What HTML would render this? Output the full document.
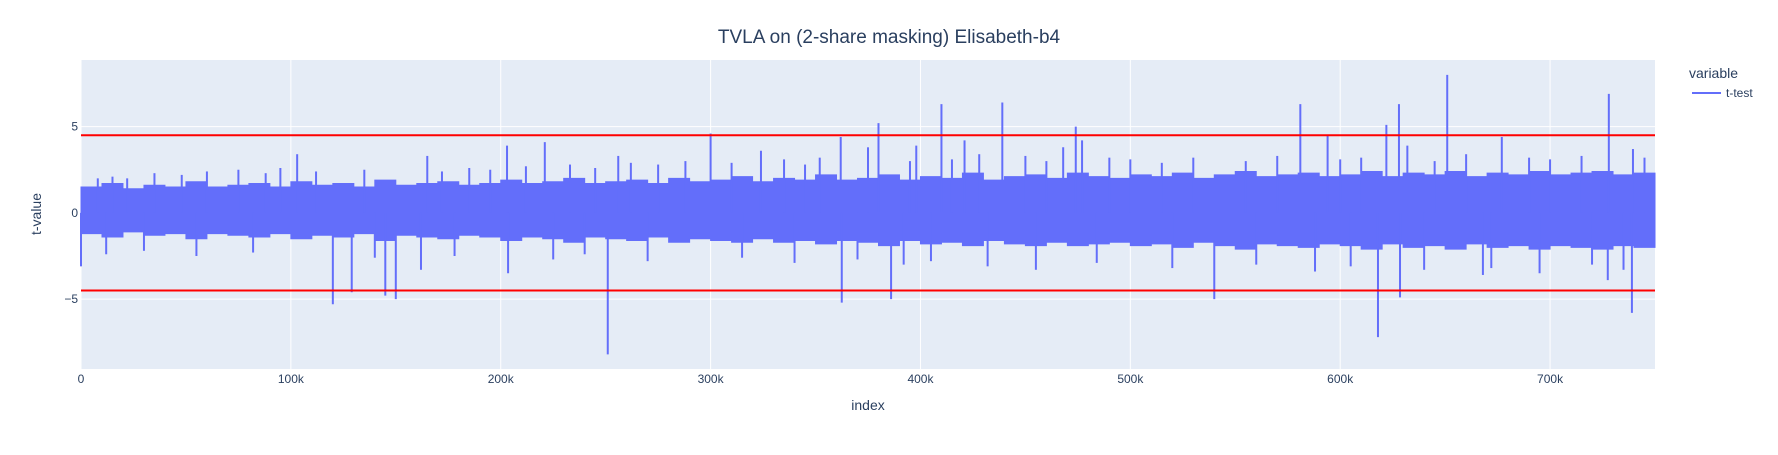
<!DOCTYPE html>
<html><head><meta charset="utf-8"><style>
body{margin:0;background:#fff;}
svg text{font-family:"Liberation Sans",Arial,sans-serif;fill:#2a3f5f;}
</style></head><body>
<svg id="chart" width="1778" height="450">
</svg>
<script>
// ---- data ----
const binSize = 10000;
const coreUpper = [1.5,1.7,1.4,1.6,1.5,1.8,1.5,1.6,1.7,1.5,
 1.8,1.6,1.7,1.5,1.9,1.6,1.7,1.8,1.6,1.7,
 1.9,1.7,1.8,2.0,1.7,1.8,1.9,1.7,2.0,1.8,
 1.9,2.1,1.8,2.0,1.9,2.2,1.9,2.0,2.2,1.9,
 2.1,2.0,2.3,1.9,2.1,2.2,2.0,2.3,2.1,2.0,
 2.2,2.1,2.3,2.0,2.2,2.4,2.1,2.2,2.3,2.1,
 2.2,2.4,2.1,2.3,2.2,2.4,2.1,2.3,2.2,2.4,
 2.2,2.3,2.4,2.2,2.3];
const coreLower = [-1.2,-1.4,-1.1,-1.3,-1.2,-1.5,-1.2,-1.3,-1.4,-1.2,
 -1.5,-1.3,-1.4,-1.2,-1.6,-1.3,-1.4,-1.5,-1.3,-1.4,
 -1.6,-1.4,-1.5,-1.7,-1.4,-1.5,-1.6,-1.4,-1.7,-1.5,
 -1.6,-1.7,-1.5,-1.7,-1.6,-1.8,-1.6,-1.7,-1.9,-1.6,
 -1.8,-1.7,-1.9,-1.6,-1.8,-1.9,-1.7,-1.9,-1.8,-1.7,
 -1.9,-1.8,-2.0,-1.7,-1.9,-2.1,-1.8,-1.9,-2.0,-1.8,
 -1.9,-2.1,-1.8,-2.0,-1.9,-2.1,-1.8,-2.0,-1.9,-2.1,
 -1.9,-2.0,-2.1,-1.9,-2.0];
const spikeIndex = [0,103000,120000,129000,145000,150000,165000,162000,203000,203500,221000,251000,256000,300000,324000,362000,362500,375000,380000,386000,398000,410000,421000,428000,439000,468000,474000,477000,540000,581000,594000,618000,622000,628000,628500,632000,651000,668000,677000,728000,727500,739000,739500,
 8000,15000,22000,35000,48000,60000,75000,88000,95000,112000,135000,172000,185000,195000,212000,233000,245000,262000,275000,288000,310000,335000,345000,352000,395000,415000,450000,460000,490000,500000,515000,530000,555000,570000,600000,610000,645000,660000,690000,700000,715000,745000,
 12000,30000,55000,82000,140000,178000,225000,240000,270000,315000,340000,370000,392000,405000,432000,455000,484000,520000,560000,588000,605000,640000,672000,695000,720000,735000];
const spikeValue = [-3.1,3.4,-5.3,-4.6,-4.8,-5.0,3.3,-3.3,3.9,-3.5,4.1,-8.2,3.3,4.6,3.6,4.4,-5.2,3.8,5.2,-5.0,3.9,6.3,4.2,3.4,6.4,3.8,5.0,4.2,-5.0,6.3,4.5,-7.2,5.1,6.3,-4.9,3.9,8.0,-3.6,4.4,6.9,-3.9,-5.8,3.7,
 2.0,2.1,2.0,2.3,2.2,2.4,2.5,2.3,2.6,2.4,2.5,2.4,2.6,2.5,2.7,2.8,2.6,2.9,2.8,3.0,2.9,3.1,2.8,3.2,3.0,3.1,3.3,3.0,3.2,3.1,2.9,3.2,3.0,3.3,3.1,3.2,3.0,3.4,3.2,3.1,3.3,3.2,
 -2.4,-2.2,-2.5,-2.3,-2.6,-2.5,-2.7,-2.4,-2.8,-2.6,-2.9,-2.7,-3.0,-2.8,-3.1,-3.3,-2.9,-3.2,-3.0,-3.4,-3.1,-3.3,-3.2,-3.5,-3.0,-3.3];
const thresholds = [4.5,-4.5];
const xTicks = [0,100000,200000,300000,400000,500000,600000,700000];
const xTickLabels = ["0","100k","200k","300k","400k","500k","600k","700k"];
const yTicks = [-5,0,5];
const yTickLabels = ["\u22125","0","5"];

// ---- layout ----
const L=81,R=1655,T=60,B=369;
const xMin=0,xMax=750000,yMin=-9.05,yMax=8.86;
const xs=v=>L+(v-xMin)/(xMax-xMin)*(R-L);
const ys=v=>B-(v-yMin)/(yMax-yMin)*(B-T);
const NS="http://www.w3.org/2000/svg";
const svg=document.getElementById('chart');
function mk(tag,attrs,parent){const e=document.createElementNS(NS,tag);for(const k in attrs)e.setAttribute(k,attrs[k]);(parent||svg).appendChild(e);return e;}

const bg=mk('rect',{x:L,y:T,width:R-L,height:B-T,fill:'#e5ecf6'});



xTicks.forEach((t,i)=>{
  const g=mk('line',{x1:xs(t),x2:xs(t),y1:T,y2:B,stroke:'#fff','stroke-width':1});
  
  
  const tx=mk('text',{x:xs(t),y:B+14,'text-anchor':'middle','font-size':12});
  tx.textContent=xTickLabels[i];
  
  
});
yTicks.forEach((t,i)=>{
  const g=mk('line',{x1:L,x2:R,y1:ys(t),y2:ys(t),stroke:'#fff','stroke-width':t===0?2:1});
  
  
  const tx=mk('text',{x:L-3,y:ys(t)+4,'text-anchor':'end','font-size':12});
  tx.textContent=yTickLabels[i];
  
  
});

// noise band
let d='';
coreUpper.forEach((u,i)=>{const x0=xs(i*binSize),x1=xs(Math.min((i+1)*binSize,xMax));d+=(i?'L':'M')+x0+' '+ys(u)+'L'+x1+' '+ys(u);});
for(let i=coreLower.length-1;i>=0;i--){const x0=xs(i*binSize),x1=xs(Math.min((i+1)*binSize,xMax));d+='L'+x1+' '+ys(coreLower[i])+'L'+x0+' '+ys(coreLower[i]);}
d+='Z';
const band=mk('path',{d:d,fill:'#636efa',stroke:'#636efa','stroke-width':1});



spikeIndex.forEach((ix,i)=>{
  const v=spikeValue[i];
  const s=mk('line',{x1:xs(ix),x2:xs(ix),y1:ys(0),y2:ys(v),stroke:'#636efa','stroke-width':2});
  
  
});

thresholds.forEach(t=>{
  const l=mk('line',{x1:L,x2:R,y1:ys(t),y2:ys(t),stroke:'#ff0000','stroke-width':2});
  
  
});

const title=mk('text',{x:889,y:43,'text-anchor':'middle','font-size':19});
title.textContent='TVLA on (2-share masking) Elisabeth-b4';


const xt=mk('text',{x:868,y:410,'text-anchor':'middle','font-size':14});
xt.textContent='index';


const yt=mk('text',{x:41,y:214,'text-anchor':'middle','font-size':14,transform:'rotate(-90 41 214)'});
yt.textContent='t-value';



const lt=mk('text',{x:1689,y:78,'font-size':14});
lt.textContent='variable';


const lg=mk('g',{});


mk('line',{x1:1692,x2:1721,y1:93,y2:93,stroke:'#636efa','stroke-width':2},lg);
const le=mk('text',{x:1726,y:97,'font-size':12},lg);
le.textContent='t-test';
</script>
</body></html>
